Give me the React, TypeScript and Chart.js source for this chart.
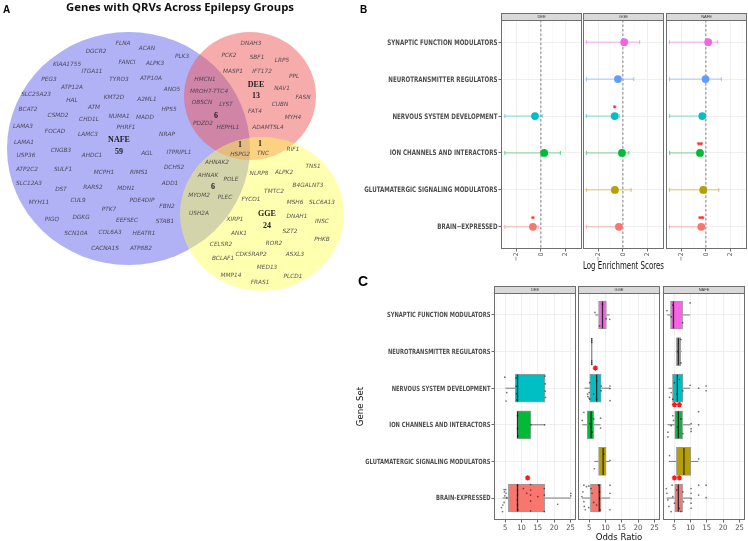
import React, { useEffect, useRef } from 'react';
import { Chart, registerables } from 'chart.js';

Chart.register(...registerables);

// ================= Panel A : Venn data =================
const vennTitle = 'Genes with QRVs Across Epilepsy Groups';
const vennSetNames = ['NAFE', 'DEE', 'GGE'];
const vennSetSizes = [59, 13, 24];
// NAFE∩DEE, NAFE∩DEE∩GGE, DEE∩GGE, NAFE∩GGE
const vennOverlapSizes = [6, 1, 1, 6];

const nafeOnlyGenes = ['FLNA','ACAN','DGCR2','PLK3','FANCI','ALPK3','KIAA1755','ITGA11','TYRO3','ATP10A','PEG3','ATP12A','ANO5','SLC25A23','HAL','KMT2D','A2ML1','BCAT2','ATM','HPS5','CSMD2','CHD1L','NUMA1','MADD','LAMA3','FOCAD','PHRF1','LAMC3','NRAP','LAMA1','CNGB3','USP36','AHDC1','AGL','ITPRIPL1','ATP2C2','SULF1','MCPH1','RIMS1','DCHS2','SLC12A3','DST','RARS2','MDN1','ADD1','MYH11','CUL9','PDE4DIP','FBN2','PTK7','PIGQ','DGKG','EEFSEC','STAB1','SCN10A','COL6A3','HEATR1','CACNA1S','ATP8B2'];
const deeOnlyGenes = ['DNAH3','PCK2','SBF1','LRP5','MASP1','IFT172','PPL','NAV1','FASN','CUBN','FAT4','MYH4','ADAMTSL4'];
const ggeOnlyGenes = ['RIF1','TNS1','NLRP8','ALPK2','B4GALNT3','TMTC2','FYCO1','MSH6','SLC6A13','XIRP1','DNAH1','INSC','ANK1','SZT2','PHKB','CELSR2','ROR2','BCLAF1','CDK5RAP2','ASXL3','MED13','MMP14','FRAS1','PLCD1'];
const nafeDeeGenes = ['HMCN1','MROH7-TTC4','OBSCN','LYST','PDZD2','HEPHL1'];
const allThreeGenes = ['HSPG2'];
const deeGgeGenes = ['TNC'];
const nafeGgeGenes = ['AHNAK2','AHNAK','POLE','MYOM2','PLEC','USH2A'];

// ---- Venn layout (diagram coordinates) ----
const vennEllipses = [
  { cx: 128.5, cy: 148.5, rx: 121.5, ry: 116.5, fill: 'rgba(100,100,235,0.5)' },
  { cx: 250, cy: 96, rx: 66, ry: 64, fill: 'rgba(240,90,90,0.5)' },
  { cx: 262, cy: 214, rx: 82, ry: 77, fill: 'rgba(255,255,80,0.45)' },
];
const nafeOnlyXY = [[123,43],[147,48],[96,51],[182,56],[127,62],[155,63],[67,64],[92,71],[119,79],[151,78],[49,79],[72,87],[172,89],[36,94],[72,100],[114,97],[147,99],[28,109],[94,107],[169,109],[58,115],[89,119],[119,116],[145,117],[23,126],[55,131],[126,127],[88,134],[167,134],[24,142],[61,150],[26,155],[92,155],[147,153],[179,152],[27,169],[63,169],[104,172],[139,172],[174,167],[29,183],[61,189],[93,187],[126,188],[170,183],[39,202],[78,200],[142,200],[167,206],[109,209],[52,219],[81,217],[127,220],[165,221],[76,233],[110,232],[144,233],[105,248],[141,248]];
const deeOnlyXY = [[251,43],[229,55],[257,57],[282,60],[233,71],[262,71],[294,76],[282,88],[303,97],[280,104],[255,111],[293,117],[268,127]];
const ggeOnlyXY = [[293,149],[313,166],[259,173],[284,172],[308,185],[274,191],[251,199],[295,202],[322,202],[235,219],[297,216],[322,221],[239,233],[290,231],[322,239],[221,244],[274,243],[223,258],[251,254],[295,254],[267,267],[231,275],[260,282],[293,276]];
const nafeDeeXY = [[205,79],[209,91],[202,102],[226,104],[203,123],[228,127]];
const allThreeXY = [[240,154]];
const deeGgeXY = [[263,153]];
const nafeGgeXY = [[217,162],[208,175],[231,179],[199,195],[225,197],[199,213]];
const setNameXY = [[119,140],[256,85],[267,214]];
const setSizeXY = [[119,152],[256,96],[267,226]];
const overlapSizeXY = [[216,116],[240,145],[260,144],[213,187]];

// ================= Panel B : log enrichment =================
const groups = ['DEE', 'GGE', 'NAFE'];
const geneSetsB = ['SYNAPTIC FUNCTION MODULATORS','NEUROTRANSMITTER REGULATORS','NERVOUS SYSTEM DEVELOPMENT','ION CHANNELS AND INTERACTORS','GLUTAMATERGIC SIGNALING MODULATORS','BRAIN\u2212EXPRESSED'];
const geneSetsC = ['SYNAPTIC FUNCTION MODULATORS','NEUROTRANSMITTER REGULATORS','NERVOUS SYSTEM DEVELOPMENT','ION CHANNELS AND INTERACTORS','GLUTAMATERGIC SIGNALING MODULATORS','BRAIN-EXPRESSED'];
const setColors = ['#F564E3', '#619CFF', '#00BFC4', '#00BA38', '#B79F00', '#F8766D'];

const bEstimate = [
  [null, null, -0.49, 0.27, null, -0.66],
  [0.11, -0.41, -0.68, -0.08, -0.66, -0.33],
  [0.19, -0.03, -0.30, -0.49, -0.22, -0.38],
];
const bLower = [
  [null, null, -2.98, -2.98, null, -2.98],
  [-3.02, -3.02, -3.02, -3.02, -3.02, -3.02],
  [-3.0, -3.0, -3.0, -3.0, -3.0, -3.0],
];
const bUpper = [
  [null, null, 0.11, 1.61, null, -0.22],
  [1.39, 0.90, -0.30, 0.49, 0.68, -0.15],
  [0.98, 1.28, -0.10, -0.35, 1.07, -0.20],
];
const bStars = [
  ['', '', '', '', '', '*'],
  ['', '', '*', '', '', ''],
  ['', '', '', '**', '', '**'],
];
const bTicks = [-3, -2, -1, 0, 1, 2, 3];
const bMajorTicks = [-2, 0, 2];
const bTickLabels = ['\u22122', '0', '2'];

// ================= Panel C : odds ratio boxplots =================
const cLow = [
  [null, null, 5.1, 8.8, null, 4.2],
  [6.9, 5.8, 3.6, 2.9, 6.6, 2.8],
  [2.9, 5.5, 3.3, 3.0, 3.4, 2.7],
];
const cQ1 = [
  [null, null, 8.1, 8.8, null, 6.0],
  [7.9, 5.8, 5.2, 4.4, 7.9, 5.4],
  [3.9, 5.7, 4.5, 5.2, 5.7, 5.2],
];
const cMedian = [
  [null, null, 8.8, 8.8, null, 8.8],
  [9.1, 5.8, 7.3, 5.6, 9.3, 8.1],
  [4.8, 6.3, 6.0, 6.3, 8.0, 6.3],
];
const cQ3 = [
  [null, null, 17.2, 12.9, null, 17.1],
  [10.3, 5.8, 8.7, 6.4, 10.2, 8.7],
  [7.6, 7.0, 7.7, 7.6, 10.1, 7.6],
];
const cHigh = [
  [null, null, 17.2, 17.1, null, 25.1],
  [11.3, 5.8, 11.4, 8.5, 11.3, 11.4],
  [9.9, 7.3, 9.9, 10.0, 12.4, 10.0],
];
// individual gene odds ratios (x) and their vertical jitter (j)
const cPointX = [
  [
    [], [],
    [4.9, 5.5, 5.3, 8.3, 8.4, 8.5, 8.6, 8.8, 17.2, 17.3, 17.3, 17.4],
    [8.8, 8.8, 8.9, 12.9, 17.1],
    [],
    [4.7, 5.2, 4.8, 5.3, 4.9, 5.5, 4.7, 4.3, 3.9, 4.2, 8.8, 8.8, 8.8, 8.7, 8.8, 8.9, 10.6, 11.6, 12.8, 12.8, 12.8, 12.8, 12.8, 15.0, 17.0, 17.0, 17.0, 21.1, 25.1, 25.1],
  ],
  [
    [6.8, 8.2, 9.1, 10.2, 11.3],
    [5.8, 5.8, 5.8, 5.8, 5.8, 5.8],
    [5.2, 5.0, 4.5, 4.6, 5.0, 5.2, 6.4, 7.3, 7.3, 11.4, 11.4, 11.4, 8.7, 8.7],
    [3.4, 2.9, 5.2, 5.6, 6.4, 8.5, 8.5, 5.9],
    [6.6, 11.4, 9.5],
    [3.4, 4.2, 4.9, 3.1, 2.8, 3.4, 3.5, 3.8, 5.6, 5.9, 6.4, 7.3, 7.9, 8.2, 8.2, 8.4, 11.4, 11.4, 11.4, 4.9],
  ],
  [
    [2.8, 9.9, 7.6, 4.6, 4.1],
    [7.1, 7.1, 6.1],
    [12.5, 14.8, 14.8, 9.9, 4.1, 3.6, 4.6, 5.8, 5.1, 7.7, 6.6],
    [12.5, 12.5, 10.2, 10.2, 10.2, 3.1, 3.1, 4.6, 4.8, 4.1, 6.1, 7.1, 7.7],
    [3.6, 12.5],
    [12.5, 12.5, 14.8, 14.8, 10.2, 10.2, 10.2, 10.2, 10.2, 2.6, 2.8, 3.1, 3.4, 4.1, 4.4, 4.6, 5.1, 5.8, 6.6, 7.7, 7.9, 7.1],
  ],
];
const cPointJ = [
  [
    [], [],
    [-0.3, 0.12, 0.35, -0.28, -0.05, 0.15, 0.32, 0.22, -0.33, -0.12, 0.08, 0.25],
    [-0.25, 0.1, 0.3, 0.0, 0.0],
    [],
    [-0.23, -0.23, -0.17, -0.13, -0.06, -0.01, 0.12, 0.19, 0.26, 0.37, -0.35, -0.22, -0.08, 0.05, 0.19, 0.32, -0.26, -0.13, -0.37, -0.22, -0.08, 0.08, 0.35, -0.04, -0.26, -0.08, 0.37, 0.17, -0.13, -0.06],
  ],
  [
    [-0.07, 0.3, -0.3, 0.1, 0.12],
    [-0.35, -0.3, -0.25, 0.25, 0.3, 0.35],
    [-0.15, 0.12, 0.16, 0.23, 0.27, 0.3, 0.16, -0.2, 0.3, -0.06, 0.01, 0.34, -0.06, 0.07],
    [-0.34, -0.12, -0.03, 0.06, -0.16, -0.18, 0.09, 0.2],
    [0.2, -0.03, -0.2],
    [-0.35, -0.31, -0.33, -0.17, -0.04, 0.1, 0.23, 0.32, -0.26, -0.13, 0.12, 0.19, -0.35, -0.17, 0.01, 0.32, -0.35, -0.13, 0.32, 0.26],
  ],
  [
    [-0.12, -0.33, 0.21, -0.27, 0.05],
    [-0.33, 0.31, 0.0],
    [0.0, -0.06, 0.07, -0.08, 0.12, 0.25, 0.3, 0.16, -0.15, 0.07, -0.24],
    [-0.36, 0.0, -0.03, 0.11, 0.18, 0.33, 0.2, -0.25, -0.12, 0.02, 0.06, -0.16, 0.24],
    [-0.16, -0.07],
    [-0.35, -0.08, -0.35, -0.01, -0.26, -0.13, 0.01, 0.14, 0.28, -0.26, -0.13, 0.05, 0.23, 0.37, -0.35, -0.04, 0.14, -0.22, 0.28, -0.17, 0.1, 0.37],
  ],
];
// significance marks: position on odds-ratio axis
const cStarX = [
  [[], [], [], [], [], [11.9]],
  [[], [], [6.9], [], [], []],
  [[], [], [], [5.1, 6.6], [], [5.1, 6.6]],
];
const cTicks = [2.5, 5, 7.5, 10, 12.5, 15, 17.5, 20, 22.5, 25];
const cMajorTicks = [5, 10, 15, 20, 25];
const cTickLabels = ['5', '10', '15', '20', '25'];

// ================= styling helpers =================
const NARROW = '"Liberation Sans Narrow", "DejaVu Sans Condensed", "Liberation Sans", Arial, sans-serif';

function fade(hex: string, a: number) {
  const n = parseInt(hex.slice(1), 16);
  return `rgba(${(n >> 16) & 255},${(n >> 8) & 255},${n & 255},${a})`;
}

const facetFrame = {
  id: 'facetFrame',
  afterDraw(chart: any, _args: any, opts: any) {
    if (!opts || !opts.label) return;
    const { ctx, chartArea: a } = chart;
    const h = opts.stripHeight;
    ctx.save();
    ctx.fillStyle = '#d9d9d9';
    ctx.fillRect(a.left, a.top - h, a.right - a.left, h);
    ctx.strokeStyle = '#6e6e6e';
    ctx.lineWidth = 1;
    ctx.strokeRect(a.left + 0.5, a.top - h + 0.5, a.right - a.left - 1, h);
    ctx.strokeRect(a.left + 0.5, a.top + 0.5, a.right - a.left - 1, a.bottom - a.top - 1);
    ctx.fillStyle = '#333';
    ctx.font = '4px "Liberation Sans", sans-serif';
    ctx.textAlign = 'center';
    ctx.textBaseline = 'middle';
    ctx.fillText(opts.label, (a.left + a.right) / 2, a.top - h / 2 + 0.5);
    // condensed category labels placed at the y scale's tick positions
    if (opts.yLabels) {
      const ys = chart.scales.y;
      ctx.fillStyle = '#4d4d4d';
      ctx.font = `bold ${opts.yFontSize}px ${NARROW}`;
      ctx.textAlign = 'right';
      ctx.textBaseline = 'middle';
      ys.ticks.forEach((t: any) => {
        const label = opts.yLabels[t.value - 1];
        if (!label) return;
        ctx.save();
        ctx.translate(a.left - 3.5, ys.getPixelForValue(t.value));
        ctx.scale(opts.yCondense, 1);
        ctx.fillText(label, 0, 0.5);
        ctx.restore();
      });
    }
    ctx.restore();
  },
};

const vennPlugin = {
  id: 'vennDraw',
  beforeDatasetsDraw(chart: any) {
    const { ctx, scales: { x, y } } = chart;
    ctx.save();
    vennEllipses.forEach((e) => {
      const px = x.getPixelForValue(e.cx);
      const py = y.getPixelForValue(e.cy);
      const rx = Math.abs(x.getPixelForValue(e.cx + e.rx) - px);
      const ry = Math.abs(y.getPixelForValue(e.cy + e.ry) - py);
      ctx.beginPath();
      ctx.ellipse(px, py, rx, ry, 0, 0, Math.PI * 2);
      ctx.fillStyle = e.fill;
      ctx.fill();
    });
    ctx.restore();
  },
  afterDatasetsDraw(chart: any, _a: any, opts: any) {
    const { ctx } = chart;
    ctx.save();
    ctx.textAlign = 'center';
    ctx.textBaseline = 'middle';
    chart.data.datasets.forEach((ds: any, d: number) => {
      const meta = chart.getDatasetMeta(d);
      ctx.font = ds.bold ? 'bold 8px "Liberation Serif", "DejaVu Serif", serif' : 'italic 5.8px "DejaVu Sans", sans-serif';
      ctx.fillStyle = ds.bold ? '#1e1e1e' : 'rgba(55,55,65,0.85)';
      meta.data.forEach((el: any, i: number) => {
        ctx.fillText(String(opts.texts[d][i]), el.x, el.y);
      });
    });
    ctx.restore();
  },
};

function vennConfig() {
  const regions = [
    [nafeOnlyGenes, nafeOnlyXY],
    [deeOnlyGenes, deeOnlyXY],
    [ggeOnlyGenes, ggeOnlyXY],
    [nafeDeeGenes, nafeDeeXY],
    [allThreeGenes, allThreeXY],
    [deeGgeGenes, deeGgeXY],
    [nafeGgeGenes, nafeGgeXY],
  ];
  const texts: any[] = regions.map((r) => r[0]);
  const datasets: any[] = regions.map((r: any) => ({
    data: r[1].map((p: number[]) => ({ x: p[0], y: p[1] })),
    pointRadius: 0,
    bold: false,
  }));
  texts.push(vennSetNames, vennSetSizes, vennOverlapSizes);
  datasets.push(
    { data: setNameXY.map((p) => ({ x: p[0], y: p[1] })), pointRadius: 0, bold: true },
    { data: setSizeXY.map((p) => ({ x: p[0], y: p[1] })), pointRadius: 0, bold: true },
    { data: overlapSizeXY.map((p) => ({ x: p[0], y: p[1] })), pointRadius: 0, bold: true },
  );
  return {
    type: 'scatter',
    data: { datasets },
    plugins: [vennPlugin],
    options: {
      responsive: false,
      animation: false,
      events: [],
      layout: { padding: 0, autoPadding: false },
      scales: {
        x: { display: false, min: 0, max: 360 },
        y: { display: false, min: 0, max: 300, reverse: true },
      },
      plugins: { legend: { display: false }, tooltip: { enabled: false }, vennDraw: { texts } },
    },
  };
}

function yScale(showTicks: boolean, width: number, title?: string) {
  return {
    type: 'linear',
    reverse: true,
    min: 0.4,
    max: 6.6,
    offset: false,
    afterBuildTicks: (s: any) => { s.ticks = [1, 2, 3, 4, 5, 6].map((v) => ({ value: v })); },
    afterFit: (s: any) => { s.width = width; s.paddingTop = 0; s.paddingBottom = 0; },
    ticks: { display: true, padding: 1, font: { size: 6 }, callback: () => '' },
    grid: { color: '#ebebeb', lineWidth: 0.8, drawTicks: showTicks, tickLength: 2.5, tickColor: '#444', offset: false },
    border: { display: false },
    title: title
      ? { display: true, text: title, color: '#111', font: { family: NARROW, size: 9.5 }, padding: { top: 5, bottom: 0 } }
      : { display: false },
  };
}

function forestConfig(g: number, yWidth: number, padLeft: number) {
  const datasets: any[] = [
    {
      data: [{ x: 0, y: 0.4 }, { x: 0, y: 6.6 }],
      showLine: true, borderColor: '#777', borderWidth: 0.9, borderDash: [2.5, 2], pointRadius: 0, order: 10,
    },
  ];
  geneSetsB.forEach((_, i) => {
    const est = bEstimate[g][i];
    if (est == null) return;
    const y = i + 1;
    const col = setColors[i];
    datasets.push({
      data: [{ x: bLower[g][i], y }, { x: bUpper[g][i], y }],
      showLine: true, borderColor: fade(col, 0.5), borderWidth: 1,
      pointStyle: 'line', pointRotation: 90, pointRadius: 2, pointBorderColor: fade(col, 0.6), pointBorderWidth: 1, order: 5,
    });
    datasets.push({
      data: [{ x: est, y }],
      pointRadius: 3.9, pointBackgroundColor: col, pointBorderWidth: 0, order: 1,
    });
    const s = bStars[g][i];
    if (s) {
      const n = s.length;
      datasets.push({
        data: s.split('').map((_c, k) => ({ x: est + (k - (n - 1) / 2) * 0.22, y: y - 0.25 })),
        pointStyle: 'star', pointRadius: 1.7, pointBorderColor: '#ff1a1a', pointBorderWidth: 0.8, order: 0,
      });
    }
  });
  return {
    type: 'scatter',
    data: { datasets },
    plugins: [facetFrame],
    options: {
      responsive: false,
      animation: false,
      events: [],
      layout: { padding: { top: 8, left: padLeft, right: 1, bottom: 0 }, autoPadding: false },
      scales: {
        x: {
          type: 'linear', min: -3.3, max: 3.4,
          afterBuildTicks: (s: any) => { s.ticks = bTicks.map((v) => ({ value: v })); },
          afterFit: (s: any) => { s.height = 23; s.paddingLeft = 0; s.paddingRight = 0; },
          ticks: {
            autoSkip: false, minRotation: 90, maxRotation: 90, padding: 1, color: '#4d4d4d',
            font: { family: NARROW, size: 6.5 },
            callback: (v: number) => { const k = bMajorTicks.indexOf(v); return k >= 0 ? bTickLabels[k] : ''; },
          },
          grid: {
            color: (c: any) => (bMajorTicks.includes(c.tick?.value) ? '#ebebeb' : '#f5f5f5'),
            lineWidth: (c: any) => (bMajorTicks.includes(c.tick?.value) ? 0.8 : 0.5),
            tickLength: 2.5,
            tickColor: (c: any) => (bMajorTicks.includes(c.tick?.value) ? '#444' : 'rgba(0,0,0,0)'),
          },
          border: { display: false },
          title: {
            display: g === 1, text: 'Log Enrichment Scores', color: '#111',
            font: { family: NARROW, size: 9.8 }, padding: { top: 0, bottom: 0 },
          },
        },
        y: yScale(g === 0, yWidth),
      },
      plugins: {
        legend: { display: false }, tooltip: { enabled: false },
        facetFrame: { label: groups[g], stripHeight: 7, yLabels: g === 0 ? geneSetsB : null, yFontSize: 7.6, yCondense: 0.81 },
      },
    },
  };
}

function boxConfig(g: number, yWidth: number, padLeft: number) {
  const boxData: any[] = [];
  const boxColors: string[] = [];
  const whisk: any[] = [];
  const meds: any[] = [];
  const medColors: string[] = [];
  const pts: any[] = [];
  const stars: any[] = [];
  geneSetsC.forEach((_, i) => {
    const y = i + 1;
    cPointX[g][i].forEach((x, k) => pts.push({ x, y: y + cPointJ[g][i][k] }));
    cStarX[g][i].forEach((x) => stars.push({ x, y: y - 0.55 }));
    if (cQ1[g][i] == null) return;
    boxData.push({ x: [cQ1[g][i], cQ3[g][i]], y });
    boxColors.push(setColors[i]);
    whisk.push({ x: cLow[g][i], y }, { x: cQ1[g][i], y }, { x: NaN, y: NaN }, { x: cQ3[g][i], y }, { x: cHigh[g][i], y }, { x: NaN, y: NaN });
    meds.push({ x: cMedian[g][i], y });
    medColors.push(cQ1[g][i] === cQ3[g][i] ? '#8a8a8a' : '#2b2b2b');
  });
  const datasets: any[] = [
    { type: 'scatter', data: whisk, showLine: true, spanGaps: false, borderColor: '#7a7a7a', borderWidth: 1, pointRadius: 0, order: 6 },
    { type: 'bar', indexAxis: 'y', data: boxData, backgroundColor: boxColors, borderColor: '#9a9a9a', borderWidth: 1, borderSkipped: false, barThickness: 28, order: 5 },
    { type: 'scatter', data: meds, pointStyle: 'line', pointRotation: 90, pointRadius: 13.5, pointBorderColor: medColors, pointBorderWidth: 1.3, order: 4 },
    { type: 'scatter', data: pts, pointRadius: 0.85, pointBackgroundColor: 'rgba(0,0,0,0.55)', pointBorderWidth: 0, order: 3 },
    { type: 'scatter', data: stars, pointStyle: 'star', pointRadius: 2.6, pointBorderColor: '#ff1a1a', pointBorderWidth: 1.3, order: 1 },
  ];
  return {
    type: 'scatter',
    data: { datasets },
    plugins: [facetFrame],
    options: {
      responsive: false,
      animation: false,
      events: [],
      layout: { padding: { top: 8, left: padLeft, right: 1, bottom: 0 }, autoPadding: false },
      scales: {
        x: {
          type: 'linear', min: 1.6, max: 26.7,
          afterBuildTicks: (s: any) => { s.ticks = cTicks.map((v) => ({ value: v })); },
          afterFit: (s: any) => { s.height = 25; s.paddingLeft = 0; s.paddingRight = 0; },
          ticks: {
            autoSkip: false, maxRotation: 0, minRotation: 0, padding: 1, color: '#4d4d4d',
            font: { family: NARROW, size: 7.5 },
            callback: (v: number) => { const k = cMajorTicks.indexOf(v); return k >= 0 ? cTickLabels[k] : ''; },
          },
          grid: {
            color: (c: any) => (cMajorTicks.includes(c.tick?.value) ? '#ebebeb' : '#f5f5f5'),
            lineWidth: (c: any) => (cMajorTicks.includes(c.tick?.value) ? 0.8 : 0.5),
            tickLength: 2.5,
            tickColor: (c: any) => (cMajorTicks.includes(c.tick?.value) ? '#444' : 'rgba(0,0,0,0)'),
          },
          border: { display: false },
          title: {
            display: g === 1, text: 'Odds Ratio', color: '#111',
            font: { family: NARROW, size: 9.5 }, padding: { top: 0, bottom: 2 },
          },
        },
        y: yScale(g === 0, yWidth, g === 0 ? 'Gene Set' : undefined),
      },
      plugins: {
        legend: { display: false }, tooltip: { enabled: false },
        facetFrame: { label: groups[g], stripHeight: 7, yLabels: g === 0 ? geneSetsC : null, yFontSize: 7.1, yCondense: 0.815 },
      },
    },
  };
}

function ChartCanvas({ left, top, width, height, make }: any) {
  const ref = useRef<HTMLCanvasElement>(null);
  useEffect(() => {
    const chart = new Chart(ref.current as HTMLCanvasElement, make());
    return () => chart.destroy();
  }, []);
  return (
    <canvas
      ref={ref}
      width={width}
      height={height}
      style={{ position: 'absolute', left, top, width, height, display: 'block' }}
    />
  );
}

const letterStyle: any = { position: 'absolute', fontFamily: '"Liberation Sans", Arial, sans-serif', fontWeight: 'bold', lineHeight: 1, color: '#000' };

export default function App() {
  return (
    <div style={{ position: 'absolute', left: 0, top: 0, width: 748, height: 541, overflow: 'hidden', background: '#fff' }}>
      <ChartCanvas left={0} top={0} width={360} height={300} make={vennConfig} />
      {/* panel B facets */}
      <ChartCanvas left={350} top={12} width={233} height={260} make={() => forestConfig(0, 151, 0)} />
      <ChartCanvas left={582} top={12} width={83} height={260} make={() => forestConfig(1, 0, 1)} />
      <ChartCanvas left={665} top={12} width={83} height={260} make={() => forestConfig(2, 0, 1)} />
      {/* panel C facets */}
      <ChartCanvas left={350} top={285} width={227} height={260} make={() => boxConfig(0, 144, 0)} />
      <ChartCanvas left={577} top={285} width={84} height={260} make={() => boxConfig(1, 0, 1)} />
      <ChartCanvas left={662} top={285} width={84} height={260} make={() => boxConfig(2, 0, 1)} />
      <div style={{ ...letterStyle, left: 3, top: 4.5, fontSize: 10 }}>A</div>
      <div style={{ ...letterStyle, left: 360, top: 4.5, fontSize: 10 }}>B</div>
      <div style={{ ...letterStyle, left: 358, top: 274, fontSize: 14 }}>C</div>
      <div style={{ position: 'absolute', left: 0, top: 1.2, width: 360, textAlign: 'center', fontFamily: '"Open Sans", sans-serif', fontWeight: 'bold', fontSize: 11.3, lineHeight: 1, color: '#111', whiteSpace: 'nowrap' }}>
        {vennTitle}
      </div>
    </div>
  );
}
